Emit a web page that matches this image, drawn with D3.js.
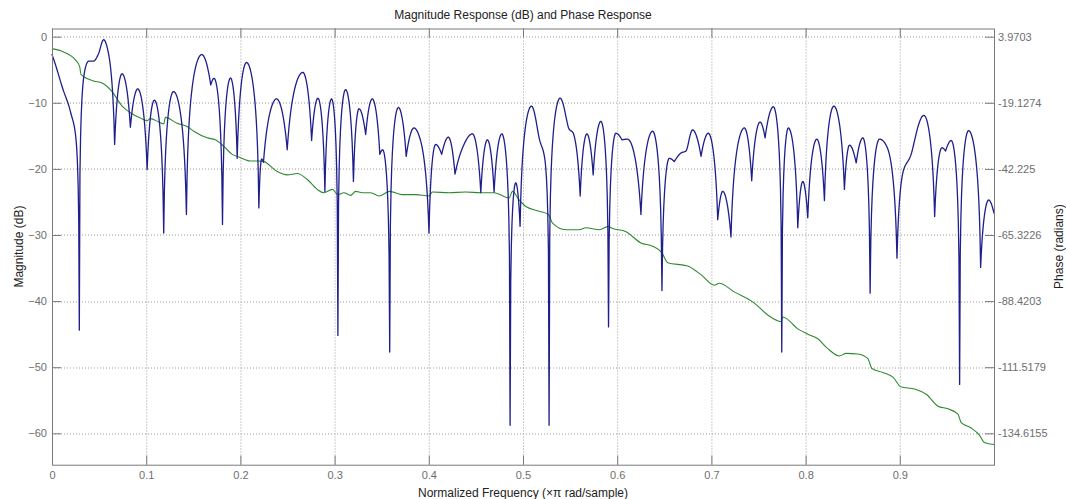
<!DOCTYPE html>
<html>
<head>
<meta charset="utf-8">
<script src="https://cdn.jsdelivr.net/npm/d3@7"></script>
<style>
  body { margin: 0; background: #fff; }
  svg { display: block; font-family: "Liberation Sans", Arial, sans-serif; }
</style>
</head>
<body>
<div id="chart"></div>
<script>
// 1. DATA
// ======================================

// 1.1 Magnitude response, normalized frequency vs dB
var magFreq = [0, .0106, .0195, .0266, .029, .0336, .039, .044, .0496, .0548,
  .0602, .0665, .0744, .0832, .091, .101, .1087, .1186, .129, .1427,
  .159, .1685, .172, .181, .1895, .1966, .2065, .2196, .2225, .2245,
  .2384, .2497, .2663, .2756, .2823, .2897, .2968, .3035, .3117, .32,
  .3259, .333, .340, .348, .351, .3585, .3677, .376, .3843, .3914,
  .4002, .4073, .4137, .4208, .4278, .435, .4463, .4552, .4622, .4693,
  .4775, .4863, .4923, .4969, .509, .5171, .5242, .5277, .5394, .549,
  .553, .5607, .5678, .5745, .5827, .5908, .5986, .6051, .611, .6252,
  .6376, .6475, .6553, .6606, .6677, .673, .680, .689, .6967, .7067,
  .712, .7208, .735, .7428, .7517, .757, .7658, .7747, .7817, .7917,
  .797, .8023, .8119, .820, .830, .8412, .8466, .8537, .8608, .8685,
  .8784, .8873, .897, .9022, .912, .9256, .937, .9447, .9486, .9546,
  .9635, .973, .9858, .9943, 1.0];

var magDb = [-2.7, -7.5, -11.3, -17.8, -44.4, -6.2, -3.7, -3.7, -2.5, -0.45,
  -2.7, -16.3, -5.6, -13.7, -7.9, -20.1, -9.6, -29.7, -8.3, -26.9,
  -2.7, -7.3, -6.3, -28.4, -6.25, -18.4, -3.9, -25.9, -18.5, -19.0,
  -9.4, -17.1, -5.4, -15.7, -9.3, -23.4, -9.4, -45.2, -8.0, -21.9,
  -10.9, -14.8, -9.4, -17.8, -17.1, -47.7, -10.7, -18.1, -13.8, -15.8,
  -29.7, -16.3, -17.8, -15.2, -20.8, -17.1, -14.7, -23.6, -15.6, -23.5,
  -14.7, -58.8, -22.1, -28.7, -10.5, -15.3, -19.9, -58.8, -9.3, -14.0,
  -14.5, -24.1, -14.7, -20.9, -12.8, -43.9, -14.6, -15.6, -15.5, -26.9,
  -14.3, -38.4, -18.4, -18.9, -17.6, -17.3, -14.1, -18.1, -14.6, -27.7,
  -23.4, -30.3, -13.8, -21.8, -12.9, -15.3, -10.6, -47.7, -13.8, -28.9,
  -21.9, -27.4, -15.5, -24.8, -10.5, -23.1, -16.4, -19.1, -15.3, -38.8,
  -15.5, -17.0, -33.5, -21.4, -17.8, -11.9, -27.2, -16.8, -17.3, -15.7,
  -52.6, -14.2, -34.9, -24.7, -26.7];

// 1.2 Phase response, normalized frequency vs radians
var phaseFreq = [0, .0123, .0248, .0293, .0308, .0442, .0531, .0638, .0744, .0832,
  .0938, .101, .1045, .1133, .1186, .1204, .1328, .1435, .1505, .1647,
  .1735, .1824, .1913, .1983, .2107, .2196, .2249, .2391, .2497, .2604,
  .271, .2816, .2886, .2976, .3035, .3099, .317, .3223, .3294, .3383,
  .3471, .3585, .3719, .3861, .4002, .4038, .4215, .4392, .4552, .4693,
  .4852, .4888, .4959, .503, .5171, .5271, .5313, .5455, .5596, .5667,
  .5809, .5909, .5933, .6093, .6252, .6376, .6475, .6536, .6748, .6889,
  .7031, .7084, .7243, .7456, .7598, .774, .7758, .7917, .8023, .813,
  .8236, .8359, .8431, .8555, .8661, .8704, .882, .8927, .9015, .9156,
  .9281, .9405, .9511, .9617, .9652, .9759, .9847, .9899, 1.0];

var phaseRad = [-0.19, -1.34, -4.11, -6.42, -9.20, -11.51, -12.20, -15.20, -20.28, -22.59,
  -24.44, -25.36, -24.67, -25.83, -26.52, -24.21, -26.29, -27.44, -29.06, -31.37,
  -32.06, -34.37, -37.14, -38.07, -39.45, -39.45, -39.68, -43.15, -44.30, -43.84,
  -45.92, -49.39, -50.54, -49.39, -51.23, -50.54, -51.46, -50.08, -50.54, -50.54,
  -51.69, -50.08, -51.23, -51.23, -51.69, -50.31, -50.54, -50.31, -50.54, -50.54,
  -52.39, -50.08, -53.08, -55.39, -57.01, -58.16, -61.16, -63.48, -63.48, -62.78,
  -63.48, -62.32, -62.78, -64.17, -68.09, -69.25, -71.56, -75.02, -76.18, -79.18,
  -82.88, -82.18, -85.19, -89.11, -93.27, -95.58, -93.96, -98.12, -99.97, -101.59,
  -105.05, -107.59, -106.67, -106.90, -108.51, -111.98, -113.36, -114.98, -118.45, -119.14,
  -120.99, -125.14, -126.07, -127.92, -130.92, -132.77, -135.31, -137.85, -138.54];

// 1.3 Ticks
var freqTicks = [0, 0.1, 0.2, 0.3, 0.4, 0.5, 0.6, 0.7, 0.8, 0.9];
var magTicks = [0, -10, -20, -30, -40, -50, -60];
var phaseTickLabels = ["3.9703", "-19.1274", "-42.225", "-65.3226", "-88.4203", "-111.5179", "-134.6155"];

// 2. SET UP SVG
// ======================================
var svgWidth = 1066;
var svgHeight = 499;

var margin = { top: 28.5, right: 72, bottom: 34.3, left: 52 };
var width = svgWidth - margin.left - margin.right;
var height = svgHeight - margin.top - margin.bottom;

var svg = d3.select("#chart")
  .append("svg")
  .attr("width", svgWidth)
  .attr("height", svgHeight);

var chartGroup = svg.append("g")
  .attr("transform", `translate(${margin.left}, ${margin.top})`);

// 3. SCALES
// ======================================
var magDomain = [-64.75, 1.24];

var xScale = d3.scaleLinear().domain([0, 1]).range([0, width]);
var yScale = d3.scaleLinear().domain(magDomain).range([height, 0]);

// the phase axis shares the grid: its labels sit on the dB ticks
var phaseTickVals = phaseTickLabels.map(Number);
var phasePerDb = (phaseTickVals[0] - phaseTickVals[phaseTickVals.length - 1]) /
  (magTicks[0] - magTicks[magTicks.length - 1]);
var toPhase = db => phaseTickVals[0] + phasePerDb * (db - magTicks[0]);
var yPhase = d3.scaleLinear()
  .domain(magDomain.map(toPhase))
  .range([height, 0]);

// 4. CUSTOM CURVE FOR A dB TRACE
// ======================================
// Monotone cubic in linear amplitude (not in dB), split at each local
// minimum, so lobes get round tops and nulls fall into sharp spikes.
var pxPerDb = Math.abs(yScale(0) - yScale(-1));

function hermiteTangents(xs, as) {
  var n = xs.length, m = new Array(n), s = [];
  for (var i = 0; i < n - 1; i++) s.push((as[i + 1] - as[i]) / (xs[i + 1] - xs[i]));
  if (n === 2) return [s[0], s[0]];
  for (var j = 1; j < n - 1; j++) {
    var s0 = s[j - 1], s1 = s[j];
    if (s0 * s1 <= 0) { m[j] = 0; continue; }
    var h0 = xs[j] - xs[j - 1], h1 = xs[j + 1] - xs[j];
    var p = (s0 * h1 + s1 * h0) / (h0 + h1);
    m[j] = Math.sign(s0) * Math.min(2 * Math.abs(s0), 2 * Math.abs(s1), Math.abs(p));
  }
  m[0] = (3 * s[0] - m[1]) / 2;
  m[n - 1] = (3 * s[n - 2] - m[n - 2]) / 2;
  return m;
}

function drawSegment(context, xs, ys, first) {
  var as = ys.map(y => Math.pow(10, -y / (20 * pxPerDb)));
  var m = hermiteTangents(xs, as);
  if (first) context.moveTo(xs[0], ys[0]);
  for (var i = 0; i < xs.length - 1; i++) {
    var h = xs[i + 1] - xs[i];
    var steps = Math.max(4, Math.ceil(h * 1.5));
    for (var k = 1; k <= steps; k++) {
      var t = k / steps, t2 = t * t, t3 = t2 * t;
      var a = (2 * t3 - 3 * t2 + 1) * as[i] + (t3 - 2 * t2 + t) * h * m[i] +
        (-2 * t3 + 3 * t2) * as[i + 1] + (t3 - t2) * h * m[i + 1];
      a = Math.max(a, 1e-9);
      context.lineTo(xs[i] + t * h, -20 * pxPerDb * Math.log10(a));
    }
  }
}

function dbCurve(context) {
  var xs, ys;
  return {
    areaStart: function() {},
    areaEnd: function() {},
    lineStart: function() { xs = []; ys = []; },
    point: function(x, y) { xs.push(+x); ys.push(+y); },
    lineEnd: function() {
      var start = 0;
      for (var i = 1; i < xs.length; i++) {
        var isMin = i < xs.length - 1 && ys[i] > ys[i - 1] && ys[i] > ys[i + 1];
        if (isMin || i === xs.length - 1) {
          drawSegment(context, xs.slice(start, i + 1), ys.slice(start, i + 1), start === 0);
          start = i;
        }
      }
    }
  };
}

// 5. GRID
// ======================================
var gridColor = "#9a9a9a";

chartGroup.append("g").selectAll("line")
  .data(freqTicks.slice(1))
  .enter()
  .append("line")
  .attr("x1", d => xScale(d) + 0.5)
  .attr("x2", d => xScale(d) + 0.5)
  .attr("y1", 0)
  .attr("y2", height)
  .attr("stroke", gridColor)
  .attr("stroke-dasharray", "1,2");

chartGroup.append("g").selectAll("line")
  .data(magTicks)
  .enter()
  .append("line")
  .attr("x1", 0)
  .attr("x2", width)
  .attr("y1", d => Math.round(yScale(d)) + 0.5)
  .attr("y2", d => Math.round(yScale(d)) + 0.5)
  .attr("stroke", gridColor)
  .attr("stroke-dasharray", "1,2");

// 6. LINES
// ======================================

// 6.1 Phase (green)
var phaseData = phaseFreq.map((f, i) => ({ f: f, v: phaseRad[i] }));
var phaseLine = d3.line()
  .x(d => xScale(d.f))
  .y(d => yPhase(d.v))
  .curve(d3.curveMonotoneX);

chartGroup.append("path")
  .datum(phaseData)
  .attr("d", phaseLine)
  .attr("fill", "none")
  .attr("stroke", "#2f8a2f")
  .attr("stroke-width", 1.1);

// 6.2 Magnitude (blue)
var magData = magFreq.map((f, i) => ({ f: f, v: magDb[i] }));
var magLine = d3.line()
  .x(d => xScale(d.f))
  .y(d => yScale(d.v))
  .curve(dbCurve);

chartGroup.append("path")
  .datum(magData)
  .attr("d", magLine)
  .attr("fill", "none")
  .attr("stroke", "#1e1e8c")
  .attr("stroke-width", 1.3)
  .attr("stroke-linecap", "round")
  .attr("stroke-linejoin", "round");

// 7. AXES
// ======================================
var axisColor = "#7a7a7a";
var tickText = "#6e6e6e";

var bottomAxis = d3.axisBottom(xScale)
  .tickValues(freqTicks)
  .tickFormat(d3.format("~g"))
  .tickSizeInner(-9)
  .tickSizeOuter(0)
  .tickPadding(7);

var topAxis = d3.axisTop(xScale)
  .tickValues(freqTicks)
  .tickFormat("")
  .tickSizeInner(-9)
  .tickSizeOuter(0);

var leftAxis = d3.axisLeft(yScale)
  .tickValues(magTicks)
  .tickSizeInner(-9)
  .tickSizeOuter(0)
  .tickPadding(5);

var rightAxis = d3.axisRight(yPhase)
  .tickValues(phaseTickVals)
  .tickFormat((d, i) => phaseTickLabels[i])
  .tickSizeInner(-9)
  .tickSizeOuter(0)
  .tickPadding(4);

function styleAxis(g) {
  g.select(".domain").remove();
  g.selectAll("line").attr("stroke", axisColor);
  g.selectAll("text")
    .attr("fill", tickText)
    .style("font-size", "11px")
    .style("font-family", "'Liberation Sans', Arial, sans-serif");
}

chartGroup.append("g")
  .attr("transform", `translate(0, ${height})`)
  .call(bottomAxis)
  .call(styleAxis);

chartGroup.append("g")
  .call(topAxis)
  .call(styleAxis);

chartGroup.append("g")
  .call(leftAxis)
  .call(styleAxis);

chartGroup.append("g")
  .attr("transform", `translate(${width}, 0)`)
  .call(rightAxis)
  .call(styleAxis);

// 7.1 Axes box
chartGroup.append("rect")
  .attr("x", 0.5)
  .attr("y", 0.5)
  .attr("width", width)
  .attr("height", height)
  .attr("fill", "none")
  .attr("stroke", axisColor)
  .attr("stroke-width", 1);

// 8. LABELS
// ======================================
svg.append("text")
  .attr("x", margin.left + width / 2)
  .attr("y", 19)
  .attr("text-anchor", "middle")
  .attr("fill", "#222")
  .style("font-size", "12px")
  .text("Magnitude Response (dB) and Phase Response");

svg.append("text")
  .attr("x", margin.left + width / 2)
  .attr("y", 496.5)
  .attr("text-anchor", "middle")
  .attr("fill", "#222")
  .style("font-size", "12px")
  .text("Normalized Frequency (\u00d7\u03c0 rad/sample)");

svg.append("text")
  .attr("transform", `translate(22.5, ${margin.top + height / 2}) rotate(-90)`)
  .attr("text-anchor", "middle")
  .attr("fill", "#222")
  .style("font-size", "12px")
  .text("Magnitude (dB)");

svg.append("text")
  .attr("transform", `translate(1062.5, ${margin.top + height / 2}) rotate(-90)`)
  .attr("text-anchor", "middle")
  .attr("fill", "#222")
  .style("font-size", "12px")
  .text("Phase (radians)");
</script>
</body>
</html>
